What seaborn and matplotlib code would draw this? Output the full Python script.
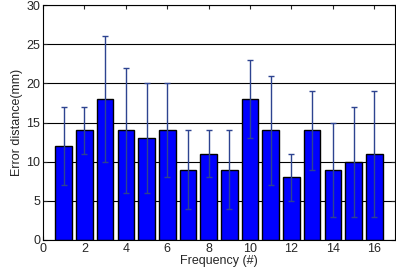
import numpy as np
import pandas as pd
import matplotlib
matplotlib.use("Agg")
import matplotlib.pyplot as plt
import seaborn as sns

# data
freq = list(range(1, 17))
err_mean = [12, 14, 18, 14, 13, 14, 9, 11, 9, 18, 14, 8, 14, 9, 10, 11]
err_std = [5, 3, 8, 8, 7, 6, 5, 3, 5, 5, 7, 3, 5, 6, 7, 8]

df = pd.DataFrame({'Frequency': freq, 'Error': err_mean})

sns.set_style('white')
plt.rcParams['font.family'] = ['Liberation Sans', 'DejaVu Sans']

fig = plt.figure(figsize=(3.96, 2.76), dpi=100)
ax = fig.add_axes([43 / 396, 1 - 240 / 276, 352 / 396, 235 / 276])

sns.barplot(data=df, x='Frequency', y='Error', native_scale=True, color='#0000ff',
            saturation=1, edgecolor='black', linewidth=1.0, width=0.8, ax=ax, zorder=2)
ax.errorbar(freq, err_mean, yerr=err_std, fmt='none', ecolor='#2d4390',
            elinewidth=1.0, capsize=2.5, capthick=1.0, zorder=3)

ax.set_xlim(0, 17)
ax.set_ylim(0, 30)
ax.set_xticks(np.arange(0, 17, 2))
ax.set_yticks(np.arange(0, 31, 5))
ax.yaxis.grid(True, color='black', linewidth=0.8)
ax.set_axisbelow(True)
ax.tick_params(direction='in', length=3, labelsize=9, top=True, right=True,
               bottom=True, left=True, pad=2)
for s in ax.spines.values():
    s.set_color('black')
    s.set_linewidth(0.8)
ax.set_xlabel('Frequency (#)', fontsize=9, labelpad=0)
ax.set_ylabel('Error distance(mm)', fontsize=9, labelpad=2)

fig.savefig('out.png', dpi=100)
